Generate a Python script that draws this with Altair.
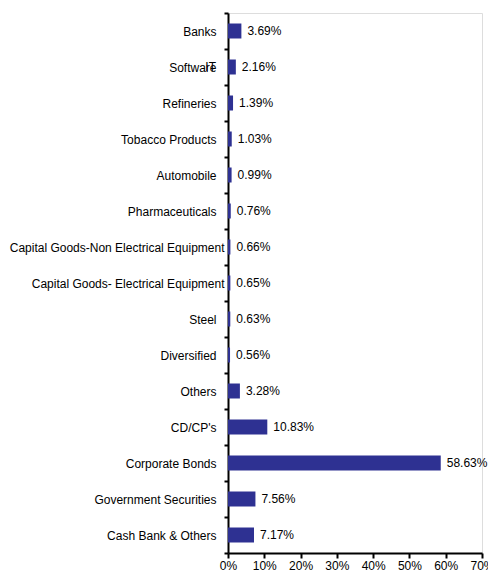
import altair as alt
import pandas as pd

categories = ["Banks", "Software", "Refineries", "Tobacco Products", "Automobile",
              "Pharmaceuticals", "Capital Goods-Non Electrical Equipment",
              "Capital Goods- Electrical Equipment", "Steel", "Diversified", "Others",
              "CD/CP's", "Corporate Bonds", "Government Securities", "Cash Bank & Others"]
values = [3.69, 2.16, 1.39, 1.03, 0.99, 0.76, 0.66, 0.65, 0.63, 0.56, 3.28,
          10.83, 58.63, 7.56, 7.17]
x_ticks = [0, 10, 20, 30, 40, 50, 60, 70]

df = pd.DataFrame({"cat": categories, "val": values})
df["label"] = [f"{v:.2f}%" for v in values]

FONT = "Liberation Sans"
COLOR = "#2E3192"
FS = 12

y_enc = alt.Y("cat:N", sort=categories, title=None,
              scale=alt.Scale(paddingInner=0, paddingOuter=0),
              axis=alt.Axis(tickBand="extent", tickSize=4, tickColor="black", tickWidth=2,
                            domainColor="black", domainWidth=2,
                            labelFont=FONT, labelFontSize=FS, labelColor="black",
                            labelPadding={"condition": {"test": "length(datum.label) > 30", "value": 0}, "value": 8},
                            labelLimit=400))
x_enc = alt.X("val:Q", title=None,
              scale=alt.Scale(domain=[0, 70], nice=False),
              axis=alt.Axis(values=x_ticks, labelExpr="datum.value + '%'",
                            tickSize=5, tickColor="black", tickWidth=2,
                            domainColor="black", domainWidth=2, grid=False,
                            labelFont=FONT, labelFontSize=FS, labelColor="black",
                            labelPadding=2, labelFlush=False, labelOverlap=False))

base = alt.Chart(df)
bars = base.mark_bar(size=15, color=COLOR).encode(x=x_enc, y=y_enc)
texts = base.mark_text(align="left", dx=6, font=FONT, fontSize=FS, color="black").encode(
    x=x_enc, y=y_enc, text="label:N")
it_df = pd.DataFrame({"cat": ["Software"], "t": ["IT"]})
it_text = alt.Chart(it_df).mark_text(align="right", font=FONT, fontSize=FS, color="black").encode(
    x=alt.value(-12), y=y_enc, text="t:N")

chart = alt.layer(bars, texts, it_text).properties(
    width=254, height=540,
    autosize=alt.AutoSizeParams(type="none"),
    padding={"left": 220, "top": 5, "right": 6, "bottom": 19},
).configure_view(stroke=None).configure(background="white")

chart.save("out.html", embed_options={"renderer": "svg", "actions": False})
